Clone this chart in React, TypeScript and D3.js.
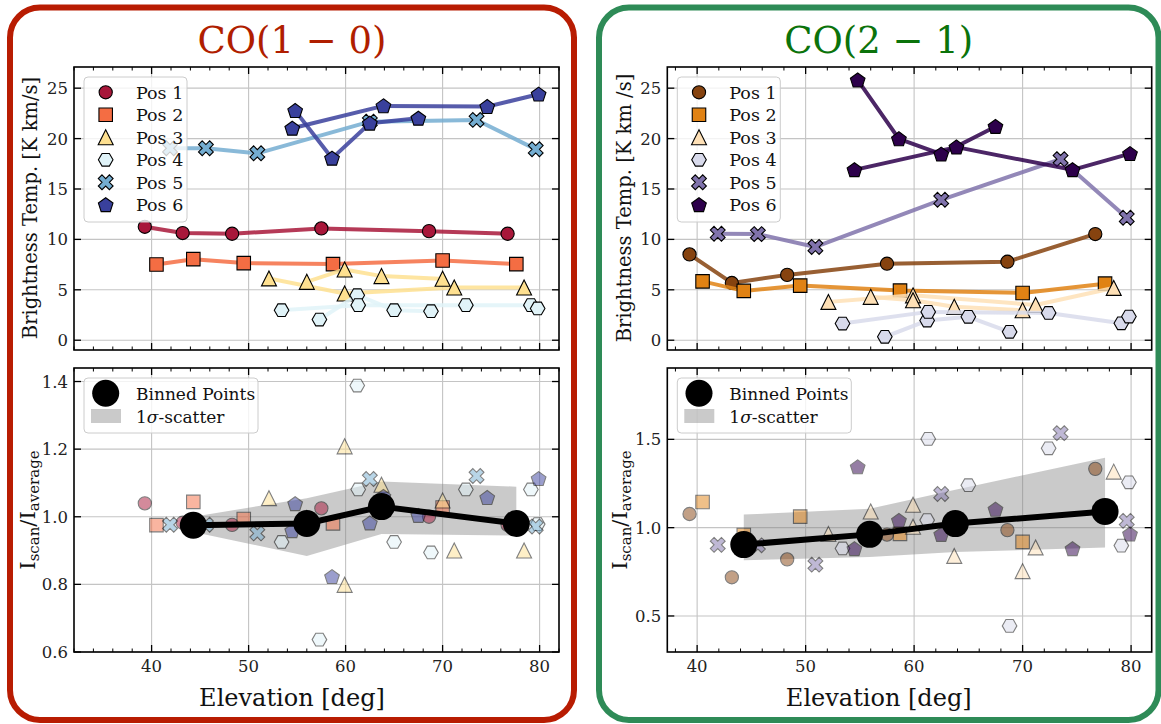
import React from "react";
import * as d3 from "d3";

const W = 1161;
const H = 724;
const FONT = '"DejaVu Serif", "Liberation Serif", serif';

// ---------- data ----------
const POS_LABELS = ["Pos 1", "Pos 2", "Pos 3", "Pos 4", "Pos 5", "Pos 6"];
const MARKERS = ["circle", "square", "triangle", "hexagon", "x", "pentagon"];

// elevation of every pointing, per position (same pointings for both lines)
const EL_POS1 = [39.3, 43.2, 48.3, 57.5, 68.6, 76.7];
const EL_POS2 = [40.5, 44.3, 49.5, 58.7, 70.0, 77.6];
const EL_POS3 = [52.1, 56.0, 59.9, 59.9, 63.7, 70.0, 71.2, 78.4];
const EL_POS4 = [53.4, 57.3, 61.2, 61.3, 65.0, 68.8, 72.4, 79.1, 79.8];
const EL_POS5 = [41.9, 45.6, 50.9, 62.5, 73.5, 79.6];
const EL_POS6 = [54.5, 54.8, 58.6, 62.5, 63.9, 67.5, 74.6, 79.9];
const ELEVATIONS = [EL_POS1, EL_POS2, EL_POS3, EL_POS4, EL_POS5, EL_POS6];

// pointings joined by a line (indices into the elevation lists), one chain per scan
const CHAINS_POS1 = [[0, 1, 2, 3, 4, 5]];
const CHAINS_POS2 = [[0, 1, 2, 3, 4, 5]];
const CHAINS_POS3 = [[0, 2, 6, 7], [1, 3, 4, 5]];
const CHAINS_POS4 = [[0, 3, 6, 7, 8], [1, 2, 4, 5]];
const CHAINS_POS5 = [[0, 1, 2, 3, 4, 5]];
const CHAINS_POS6 = [[0, 4, 6, 7], [1, 2, 3, 5]];
const CHAINS = [CHAINS_POS1, CHAINS_POS2, CHAINS_POS3, CHAINS_POS4, CHAINS_POS5, CHAINS_POS6];

// CO(1-0) integrated brightness temperature [K km/s]
const CO10_POS1 = [11.25, 10.63, 10.56, 11.09, 10.82, 10.56];
const CO10_POS2 = [7.51, 8.04, 7.65, 7.55, 7.91, 7.55];
const CO10_POS3 = [6.13, 5.79, 4.64, 7.02, 6.36, 6.09, 5.23, 5.23];
const CO10_POS4 = [2.98, 2.05, 4.47, 3.48, 2.98, 2.88, 3.48, 3.48, 3.15];
const CO10_POS5 = [19.04, 19.04, 18.54, 21.68, 21.85, 18.94];
const CO10_POS6 = [21.02, 22.77, 18.04, 21.52, 23.24, 22.01, 23.17, 24.4];
const CO10_AVERAGE = [10.82, 7.7, 5.81, 3.22, 19.5, 21.93];

// CO(2-1) integrated brightness temperature [K km/s]
const CO21_POS1 = [8.51, 5.68, 6.48, 7.59, 7.79, 10.53];
const CO21_POS2 = [5.84, 4.89, 5.42, 4.92, 4.69, 5.61];
const CO21_POS3 = [3.8, 4.3, 4.45, 3.96, 3.31, 2.97, 3.5, 5.19];
const CO21_POS4 = [1.65, 0.34, 1.95, 2.81, 2.32, 0.83, 2.71, 1.68, 2.35];
const CO21_POS5 = [10.56, 10.53, 9.25, 13.93, 17.96, 12.15];
const CO21_POS6 = [16.9, 25.8, 19.97, 18.45, 19.15, 21.19, 16.9, 18.5];
const CO21_AVERAGE = [7.9, 5.1, 3.94, 1.87, 11.7, 19.2];

// binned ratio and its 1-sigma scatter envelope
const CO10_BIN_EL = [44.3, 56.0, 63.7, 77.6];
const CO10_BIN_RATIO = [0.975, 0.98, 1.03, 0.98];
const CO10_BIN_LO = [0.955, 0.884, 0.949, 0.944];
const CO10_BIN_HI = [1.0, 1.055, 1.104, 1.089];

const CO21_BIN_EL = [44.3, 55.9, 63.8, 77.6];
const CO21_BIN_RATIO = [0.904, 0.962, 1.023, 1.092];
const CO21_BIN_LO = [0.815, 0.834, 0.862, 0.887];
const CO21_BIN_HI = [1.074, 1.107, 1.215, 1.396];

const CO10_COLORS = ["#a8173a", "#f46d43", "#fee090", "#e0f3f8", "#74add1", "#39409c"];
const CO21_COLORS = ["#86430f", "#e08214", "#fee0b6", "#d8daeb", "#8073ac", "#2d004b"];

const X_TICKS = [40, 50, 60, 70, 80];
const TB_TICKS = [0, 5, 10, 15, 20, 25];
const CO10_RATIO_TICKS = [0.6, 0.8, 1.0, 1.2, 1.4];
const CO21_RATIO_TICKS = [0.5, 1.0, 1.5];

// ---------- layout ----------
const TOP_Y0 = 67;
const TOP_Y1 = 350;
const BOT_Y0 = 368;
const BOT_Y1 = 652;
const TB_DOMAIN: [number, number] = [-0.97, 27.1];

function shapePath(kind: string): string {
  const poly = (pts: number[][]) => "M" + pts.map((p) => p[0].toFixed(2) + "," + p[1].toFixed(2)).join("L") + "Z";
  switch (kind) {
    case "square":
      return "M-6.75,-6.75H6.75V6.75H-6.75Z";
    case "triangle":
      return "M0,-7.5L7.5,7.5L-7.5,7.5Z";
    case "hexagon":
      return poly(d3.range(6).map((k) => [7.3 * Math.cos((k * Math.PI) / 3), 7.3 * Math.sin((k * Math.PI) / 3)]));
    case "x": {
      const base = [[-1, -2], [0, -1], [1, -2], [2, -1], [1, 0], [2, 1], [1, 2], [0, 1], [-1, 2], [-2, 1], [-1, 0], [-2, -1]];
      return poly(base.map((p) => [p[0] * 3.7, p[1] * 3.7]));
    }
    case "pentagon":
      return poly(d3.range(5).map((k) => {
        const a = -Math.PI / 2 + (k * 2 * Math.PI) / 5;
        return [7.7 * Math.cos(a), 7.7 * Math.sin(a) + 0.6];
      }));
    default:
      return "M6.6,0A6.6,6.6 0 1,1 -6.6,0A6.6,6.6 0 1,1 6.6,0Z";
  }
}

function Marker({ kind, x, y, fill, opacity = 1 }: { kind: string; x: number; y: number; fill: string; opacity?: number }) {
  return (
    <path
      d={shapePath(kind)}
      transform={`translate(${x},${y})`}
      fill={fill}
      stroke="#000"
      strokeWidth={1.1}
      strokeLinejoin="miter"
      opacity={opacity}
    />
  );
}

type AxesFrameProps = {
  x: d3.ScaleLinear<number, number>;
  y: d3.ScaleLinear<number, number>;
  yTicks: number[];
  fmt: (v: number) => string;
  showXLabels: boolean;
  xDomain: [number, number];
};

function AxesFrame({ x, y, yTicks, fmt, showXLabels, xDomain }: AxesFrameProps) {
  const [l, r] = x.range();
  const [b, t] = y.range();
  const minor = d3
    .range(Math.ceil(xDomain[0] / 2) * 2, xDomain[1] + 1e-6, 2)
    .filter((v) => Math.abs(v % 10) > 1e-6);
  return (
    <g>
      {X_TICKS.map((v) => (
        <g key={"mx" + v}>
          <line x1={x(v)} x2={x(v)} y1={b} y2={b - 7} stroke="#000" strokeWidth={1.3} />
          <line x1={x(v)} x2={x(v)} y1={t} y2={t + 7} stroke="#000" strokeWidth={1.3} />
        </g>
      ))}
      {minor.map((v) => (
        <g key={"nx" + v}>
          <line x1={x(v)} x2={x(v)} y1={b} y2={b - 3.5} stroke="#000" strokeWidth={1} />
          <line x1={x(v)} x2={x(v)} y1={t} y2={t + 3.5} stroke="#000" strokeWidth={1} />
        </g>
      ))}
      {yTicks.map((v) => (
        <g key={"my" + v}>
          <line x1={l} x2={l + 7} y1={y(v)} y2={y(v)} stroke="#000" strokeWidth={1.3} />
          <line x1={r} x2={r - 7} y1={y(v)} y2={y(v)} stroke="#000" strokeWidth={1.3} />
          <text x={l - 6} y={y(v) + 6} fontSize={16.5} textAnchor="end" fill="#222">
            {fmt(v)}
          </text>
        </g>
      ))}
      {showXLabels &&
        X_TICKS.map((v) => (
          <text key={"lx" + v} x={x(v)} y={b + 20} fontSize={16.5} textAnchor="middle" fill="#222">
            {v}
          </text>
        ))}
      <rect x={l} y={t} width={r - l} height={b - t} fill="none" stroke="#000" strokeWidth={1.6} />
    </g>
  );
}

function Grid({ x, y, yTicks }: { x: d3.ScaleLinear<number, number>; y: d3.ScaleLinear<number, number>; yTicks: number[] }) {
  const [l, r] = x.range();
  const [b, t] = y.range();
  return (
    <g stroke="#c4c4c4" strokeWidth={1.1}>
      {X_TICKS.map((v) => (
        <line key={"gx" + v} x1={x(v)} x2={x(v)} y1={b} y2={t} />
      ))}
      {yTicks.map((v) => (
        <line key={"gy" + v} x1={l} x2={r} y1={y(v)} y2={y(v)} />
      ))}
    </g>
  );
}

type PanelProps = {
  id: string;
  title: string;
  titleColor: string;
  frameColor: string;
  frameX0: number;
  frameX1: number;
  axLeft: number;
  axRight: number;
  xDomain: [number, number];
  values: number[][];
  average: number[];
  colors: string[];
  binEl: number[];
  binRatio: number[];
  binLo: number[];
  binHi: number[];
  ratioDomain: [number, number];
  ratioTicks: number[];
  tbLabel: string;
  tbLabelX: number;
  ratioLabelX: number;
};

function Panel(p: PanelProps) {
  const x = d3.scaleLinear().domain(p.xDomain).range([p.axLeft, p.axRight]);
  const yTop = d3.scaleLinear().domain(TB_DOMAIN).range([TOP_Y1, TOP_Y0]);
  const yBot = d3.scaleLinear().domain(p.ratioDomain).range([BOT_Y1, BOT_Y0]);
  const line = d3
    .line<number[]>()
    .x((d) => d[0])
    .y((d) => d[1]);
  const center = (p.frameX0 + p.frameX1) / 2;

  const band = d3
    .area<number>()
    .x((i) => x(p.binEl[i]))
    .y0((i) => yBot(p.binLo[i]))
    .y1((i) => yBot(p.binHi[i]));
  const binLine = d3
    .line<number>()
    .x((i) => x(p.binEl[i]))
    .y((i) => yBot(p.binRatio[i]));
  const binIdx = d3.range(p.binEl.length);

  const legX = p.axLeft + 10;
  const one = d3.format(".1f");

  return (
    <g>
      <defs>
        <clipPath id={`clip-top-${p.id}`}>
          <rect x={p.axLeft} y={TOP_Y0} width={p.axRight - p.axLeft} height={TOP_Y1 - TOP_Y0} />
        </clipPath>
        <clipPath id={`clip-bot-${p.id}`}>
          <rect x={p.axLeft} y={BOT_Y0} width={p.axRight - p.axLeft} height={BOT_Y1 - BOT_Y0} />
        </clipPath>
      </defs>

      {/* rounded frame and titles */}
      <rect
        x={p.frameX0}
        y={7.5}
        width={p.frameX1 - p.frameX0}
        height={712.5}
        rx={30}
        ry={30}
        fill="none"
        stroke={p.frameColor}
        strokeWidth={6}
      />
      <text x={center} y={53} fontSize={37} textAnchor="middle" fill={p.titleColor}>
        {p.title}
      </text>
      <text x={center} y={706} fontSize={24} textAnchor="middle" fill="#111">
        Elevation [deg]
      </text>

      {/* top: brightness temperature per position */}
      <Grid x={x} y={yTop} yTicks={TB_TICKS} />
      <g clipPath={`url(#clip-top-${p.id})`}>
        {p.values.map((vals, s) => {
          const el = ELEVATIONS[s];
          return (
            <g key={"s" + s}>
              {CHAINS[s].map((chain, c) => (
                <path
                  key={"c" + c}
                  d={line(chain.map((i) => [x(el[i]), yTop(vals[i])])) || ""}
                  fill="none"
                  stroke={p.colors[s]}
                  strokeWidth={4}
                  strokeOpacity={0.85}
                  strokeLinejoin="round"
                  strokeLinecap="square"
                />
              ))}
              {vals.map((v, i) => (
                <Marker key={"m" + i} kind={MARKERS[s]} x={x(el[i])} y={yTop(v)} fill={p.colors[s]} />
              ))}
            </g>
          );
        })}
      </g>
      <AxesFrame x={x} y={yTop} yTicks={TB_TICKS} fmt={(v) => String(v)} showXLabels={false} xDomain={p.xDomain} />
      <g>
        <rect x={legX} y={77} width={103} height={145} rx={4} fill="#fff" fillOpacity={0.8} stroke="#cccccc" strokeWidth={1} />
        {POS_LABELS.map((lab, s) => (
          <g key={"lg" + s}>
            <Marker kind={MARKERS[s]} x={legX + 21.7} y={92.3 + s * 22.5} fill={p.colors[s]} />
            <text x={legX + 52} y={92.3 + s * 22.5 + 6.5} fontSize={17.5} fill="#111">
              {lab}
            </text>
          </g>
        ))}
      </g>
      <text
        transform={`translate(${p.tbLabelX},208) rotate(-90)`}
        fontSize={19.5}
        textAnchor="middle"
        fill="#111"
      >
        {p.tbLabel}
      </text>

      {/* bottom: ratio to the position average */}
      <Grid x={x} y={yBot} yTicks={p.ratioTicks} />
      <g clipPath={`url(#clip-bot-${p.id})`}>
        <path d={band(binIdx) || ""} fill="#808080" fillOpacity={0.42} />
        {p.values.map((vals, s) =>
          vals.map((v, i) => (
            <Marker
              key={"r" + s + "-" + i}
              kind={MARKERS[s]}
              x={x(ELEVATIONS[s][i])}
              y={yBot(v / p.average[s])}
              fill={p.colors[s]}
              opacity={0.5}
            />
          ))
        )}
        <path d={binLine(binIdx) || ""} fill="none" stroke="#000" strokeWidth={6} strokeLinejoin="round" />
        {binIdx.map((i) => (
          <circle key={"b" + i} cx={x(p.binEl[i])} cy={yBot(p.binRatio[i])} r={13.5} fill="#000" />
        ))}
      </g>
      <AxesFrame x={x} y={yBot} yTicks={p.ratioTicks} fmt={one} showXLabels={true} xDomain={p.xDomain} />
      <g>
        <rect x={legX} y={378} width={174} height={55} rx={4} fill="#fff" fillOpacity={0.8} stroke="#cccccc" strokeWidth={1} />
        <circle cx={legX + 21.7} cy={393.3} r={13.5} fill="#000" />
        <text x={legX + 52} y={399.8} fontSize={17} fill="#111">
          Binned Points
        </text>
        <rect x={legX + 7} y={409} width={30} height={14} fill="#808080" fillOpacity={0.42} />
        <text x={legX + 52} y={422.5} fontSize={17} fill="#111">
          1<tspan fontStyle="italic">σ</tspan>-scatter
        </text>
      </g>
      <text transform={`translate(${p.ratioLabelX},510) rotate(-90)`} textAnchor="middle" fill="#111">
        <tspan fontSize={21}>I</tspan>
        <tspan fontSize={15} dy={4}>scan</tspan>
        <tspan fontSize={21} dy={-4}>/I</tspan>
        <tspan fontSize={15} dy={4}>average</tspan>
      </text>
    </g>
  );
}

export default function App() {
  return (
    <svg
      width={W}
      height={H}
      viewBox={`0 0 ${W} ${H}`}
      style={{ position: "absolute", left: 0, top: 0, display: "block", background: "#fff", fontFamily: FONT }}
    >
      <rect x={0} y={0} width={W} height={H} fill="#fff" />
      <Panel
        id="co10"
        title="CO(1 − 0)"
        titleColor="#b01e00"
        frameColor="#b81c02"
        frameX0={10}
        frameX1={574}
        axLeft={74}
        axRight={559}
        xDomain={[32, 82]}
        values={[CO10_POS1, CO10_POS2, CO10_POS3, CO10_POS4, CO10_POS5, CO10_POS6]}
        average={CO10_AVERAGE}
        colors={CO10_COLORS}
        binEl={CO10_BIN_EL}
        binRatio={CO10_BIN_RATIO}
        binLo={CO10_BIN_LO}
        binHi={CO10_BIN_HI}
        ratioDomain={[0.6, 1.44]}
        ratioTicks={CO10_RATIO_TICKS}
        tbLabel="Brightness Temp. [K km/s]"
        tbLabelX={37}
        ratioLabelX={35}
      />
      <Panel
        id="co21"
        title="CO(2 − 1)"
        titleColor="#0b730b"
        frameColor="#2e8b57"
        frameX0={599}
        frameX1={1158.5}
        axLeft={667.3}
        axRight={1151.7}
        xDomain={[37.25, 81.9]}
        values={[CO21_POS1, CO21_POS2, CO21_POS3, CO21_POS4, CO21_POS5, CO21_POS6]}
        average={CO21_AVERAGE}
        colors={CO21_COLORS}
        binEl={CO21_BIN_EL}
        binRatio={CO21_BIN_RATIO}
        binLo={CO21_BIN_LO}
        binHi={CO21_BIN_HI}
        ratioDomain={[0.296, 1.904]}
        ratioTicks={CO21_RATIO_TICKS}
        tbLabel="Brightness Temp. [K km /s]"
        tbLabelX={631}
        ratioLabelX={627}
      />
    </svg>
  );
}
